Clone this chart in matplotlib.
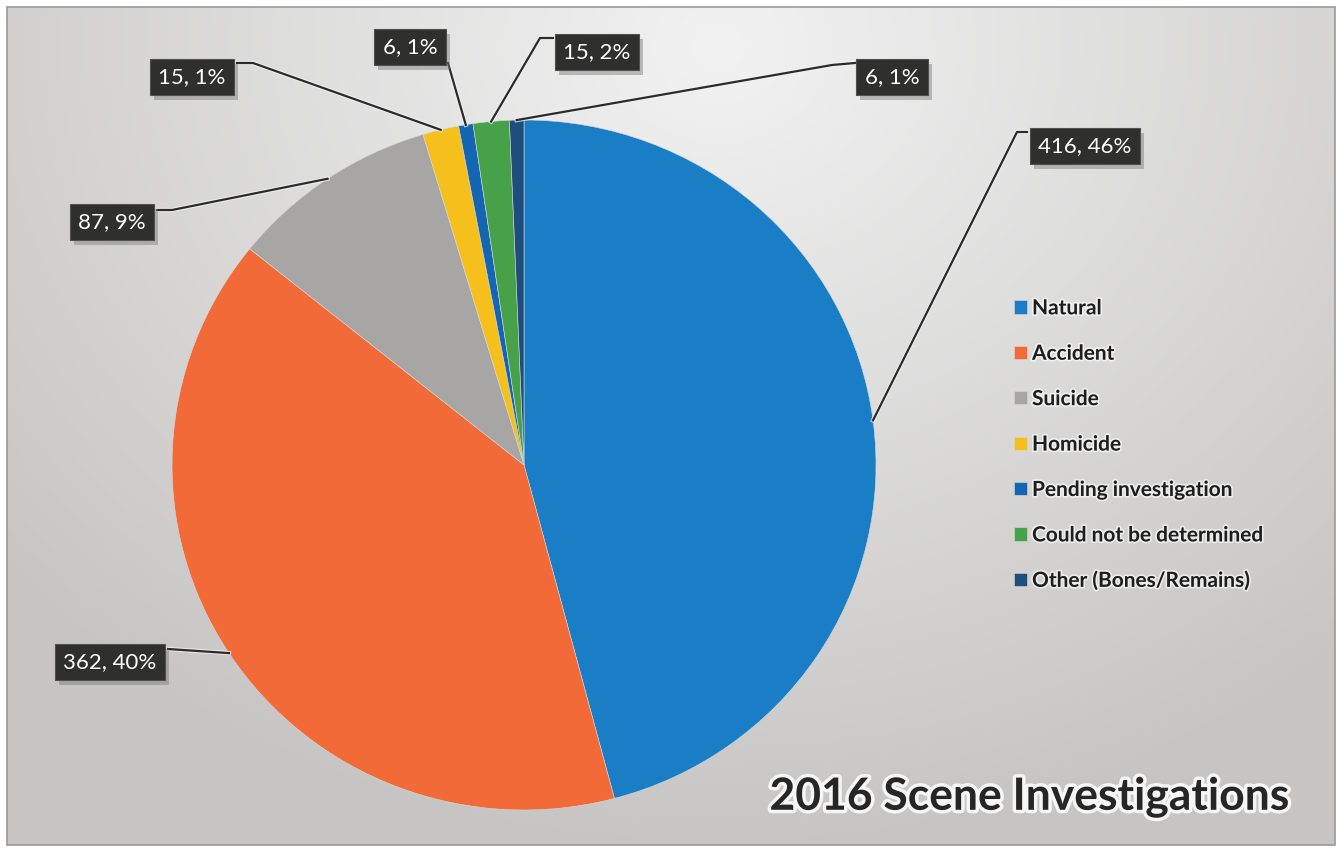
import numpy as np
import matplotlib
matplotlib.use("Agg")
import matplotlib.pyplot as plt
import matplotlib.patheffects as pe

plt.rcParams['font.family'] = ['Lato', 'DejaVu Sans']

# data
categories = ["Natural", "Accident", "Suicide", "Homicide",
              "Pending investigation", "Could not be determined",
              "Other (Bones/Remains)"]
counts = [416, 362, 87, 15, 6, 15, 6]
pct_labels = ["46%", "40%", "9%", "1%", "1%", "2%", "1%"]
colors = ["#1a7ec6", "#f26a37", "#a8a6a4", "#f6c01c",
          "#1466b3", "#47a148", "#1d4e7e"]

# label layout in pixels: box centre, and the path of the leader from box to pie
label_pos = [(1085, 146), (110, 662), (112, 222), (192, 77),
             (410, 47), (597, 52), (892, 77)]
leader_pts = [[(1027, 132), (1017, 132)],
              [(168, 649)],
              [(157, 210), (172, 210)],
              [(237, 63), (253, 63)],
              [(448, 63)],
              [(553, 38), (540, 38)],
              [(855, 63), (832, 65)]]

W, H = 1344, 848
fig = plt.figure(figsize=(W / 100, H / 100), dpi=100)
fig.patch.set_facecolor("white")

# background panel with soft gradient
bg = fig.add_axes([0, 0, 1, 1])
bg.set_xlim(0, W)
bg.set_ylim(H, 0)
bg.axis("off")
yy, xx = np.mgrid[0:H, 0:W]
d = np.sqrt(((xx - 720) / 1.0) ** 2 + ((yy - 40) / 0.85) ** 2)
t = np.clip(d / 950, 0, 1)
light = np.array([0.95, 0.95, 0.95])
dark = np.array([0.78, 0.775, 0.77])
grad = light[None, None, :] * (1 - t[..., None]) + dark[None, None, :] * t[..., None]
bg.imshow(grad, extent=(7, 1335, 845, 7), aspect="auto", zorder=0)
bg.add_patch(plt.Rectangle((7, 7), 1328, 838, fill=False, ec="#9a9a9a", lw=1.2, zorder=1))

# pie (scan is a touch wider than tall)
cx, cy, rx, ry = 524, 465, 352, 345
pax = fig.add_axes([(cx - rx) / W, (H - cy - ry) / H, 2 * rx / W, 2 * ry / H])
wedges, _ = pax.pie(counts, colors=colors, startangle=90, counterclock=False,
                    radius=1.0, wedgeprops=dict(edgecolor="#d8d8d8", linewidth=0.4))
pax.set_xlim(-1, 1)
pax.set_ylim(-1, 1)
pax.set_aspect("auto")
pax.axis("off")

# overlay for labels, leaders and title
ov = fig.add_axes([0, 0, 1, 1])
ov.set_xlim(0, W)
ov.set_ylim(H, 0)
ov.axis("off")
ov.patch.set_alpha(0)

fig.canvas.draw()
boxes = []
for i, w in enumerate(wedges):
    mid = np.deg2rad((w.theta1 + w.theta2) / 2)
    disp = pax.transData.transform((np.cos(mid), np.sin(mid)))
    ax_, ay_ = ov.transData.inverted().transform(disp)
    pts = leader_pts[i] + [(ax_, ay_)]
    xs = [p[0] for p in pts]
    ys = [p[1] for p in pts]
    ov.plot(xs, ys, color="#2b2b2b", lw=1.6, zorder=3,
            path_effects=[pe.Stroke(linewidth=3.2, foreground="#f4f4f4", alpha=0.7), pe.Normal()])
    txt = f"{counts[i]}, {pct_labels[i]}"
    bx, by = label_pos[i]
    tx = ov.text(bx, by, txt, fontsize=16, color="white", ha="center", va="center",
                 bbox=dict(boxstyle="square,pad=0.38", fc="#2f302e", ec="#505050", lw=0.8),
                 zorder=5)
    boxes.append(tx)

# soft shadow behind each label box
fig.canvas.draw()
inv = ov.transData.inverted()
for tx in boxes:
    ext = tx.get_bbox_patch().get_window_extent()
    (x0, y0), (x1, y1) = inv.transform([[ext.x0, ext.y0], [ext.x1, ext.y1]])
    ov.add_patch(plt.Rectangle((min(x0, x1) + 4, min(y0, y1) + 5), abs(x1 - x0), abs(y1 - y0),
                               fc="#7a7a7a", ec="none", alpha=0.45, zorder=4))

leg = fig.legend(wedges, categories, loc="upper left",
                 bbox_to_anchor=(1006 / W, 1 - 290 / H), frameon=False,
                 prop=dict(family=["Lato", "DejaVu Sans"], weight="bold", size=15),
                 handlelength=0.6, handleheight=0.6, handletextpad=0.25,
                 labelspacing=1.22, borderaxespad=0)
for t_ in leg.get_texts():
    t_.set_color("#1e1e1e")
    t_.set_path_effects([pe.withStroke(linewidth=2.5, foreground="white", alpha=0.6)])

ov.text(1290, 797, "2016 Scene Investigations", fontsize=32, fontweight="bold",
        color="#262626", ha="right", va="center", zorder=6,
        path_effects=[pe.withStroke(linewidth=5, foreground="white", alpha=0.85)])

fig.savefig("out.png", dpi=100)
